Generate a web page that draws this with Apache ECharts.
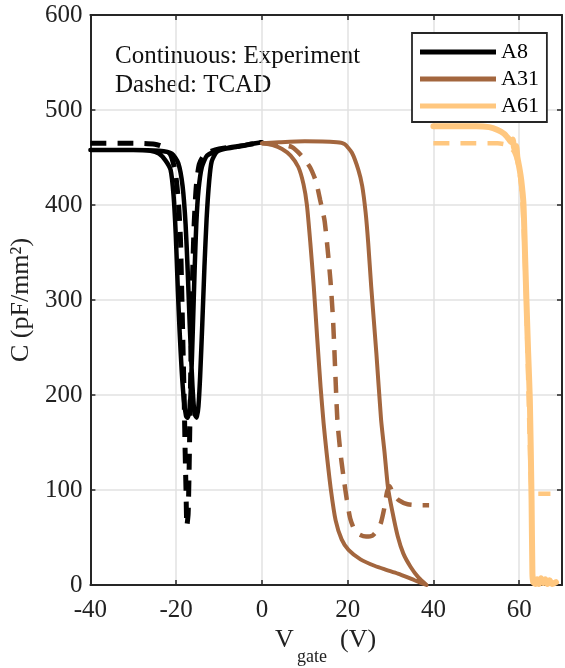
<!DOCTYPE html>
<html>
<head>
<meta charset="utf-8">
<script src="https://cdn.jsdelivr.net/npm/echarts@6/dist/echarts.min.js"></script>
<style>
  html, body { margin: 0; padding: 0; background: #fff; }
  #chart { width: 565px; height: 668px; }
</style>
</head>
<body>
<div id="chart"></div>
<script>
var chart = echarts.init(document.getElementById("chart"));

// x ticks / y ticks
var xTicks = [-40, -20, 0, 20, 40, 60];
var yTicks = [0, 100, 200, 300, 400, 500, 600];
var names = ['A8', 'A31', 'A61'];
var colors = ['#000000', '#a3663e', '#ffc77f'];

// A8 experiment (sweep down and back)
var a8Exp = [
    [-40, 458], [-30, 458], [-26, 457], [-24, 454], [-22.5, 447], [-21.3, 437], [-20.6, 410],
    [-20.1, 370], [-19.6, 310], [-19.2, 268], [-18.7, 225], [-18.2, 195], [-17.7, 178], [-17.4, 176],
    [-16.9, 182], [-16.5, 215], [-16.1, 270], [-15.7, 330], [-15.3, 380], [-14.8, 415], [-14, 440],
    [-12.8, 452], [-10, 458], [-6, 461], [-3, 464], [0, 466],
    [-4, 463], [-8, 460], [-10.5, 456], [-11.7, 446], [-12.3, 425], [-12.9, 385], [-13.4, 335],
    [-13.9, 275], [-14.4, 220], [-14.8, 188], [-15.2, 176], [-15.7, 180], [-16.2, 210], [-16.8, 270],
    [-17.3, 330], [-17.8, 380], [-18.5, 420], [-19.5, 444], [-21, 454], [-24, 457], [-30, 458], [-40, 458]
];
// A8 TCAD
var a8Tcad = [
    [-40, 465], [-30, 465], [-25, 464], [-23, 461], [-21.3, 453], [-20.2, 435], [-19.5, 405],
    [-19, 365], [-18.7, 310], [-18.4, 250], [-18.1, 190], [-17.9, 140], [-17.7, 100], [-17.5, 62],
    [-17.2, 75], [-17, 115], [-16.8, 170], [-16.5, 250], [-16.2, 320], [-15.8, 380], [-15.3, 420],
    [-14.6, 443], [-13.2, 454], [-10, 459], [-5, 462], [0, 466]
];
// A31 experiment
var a31Exp = [
    [0, 465], [2.5, 463], [4.7, 459], [6.7, 452], [8.5, 440], [9.7, 422], [10.5, 400], [11.3, 360],
    [12.1, 314], [12.9, 260], [13.7, 208], [14.4, 170], [15.1, 139], [16.1, 100], [17.2, 68],
    [18.6, 48], [20.2, 37], [23, 27], [26.4, 20], [29, 16], [31.7, 12], [34, 8], [35.6, 5], [38.4, 0],
    [36.5, 8], [34.7, 19], [33, 33], [31.7, 51], [30.4, 78], [29.4, 103], [28.6, 140], [27.8, 174],
    [26.7, 244], [25.5, 314], [24.8, 360], [24.2, 392], [23.4, 420], [22.5, 437], [21, 455],
    [19.3, 464], [17.5, 466], [10, 467], [4, 466], [0, 465]
];
// A31 TCAD
var a31Tcad = [
    [0, 465], [4, 464], [7, 461], [9.2, 452], [11.2, 440], [12.6, 425], [13.6, 405], [14.6, 384],
    [15.3, 355], [16, 320], [16.6, 279], [17.1, 226], [17.6, 174], [18.3, 140], [19, 115],
    [19.8, 90], [20.6, 70], [21.6, 58], [22.8, 53], [24.3, 51], [25.8, 52], [27, 58], [27.8, 66],
    [28.6, 82], [29.2, 98], [29.8, 104], [30.6, 96], [32, 89], [34, 85], [37, 84], [39, 84]
];
// A61 experiment
var a61Exp = [
    [40, 483], [45, 483], [50, 483], [53, 482], [55, 479], [56.5, 475], [57.5, 470], [58.2, 466],
    [58.5, 469], [58.9, 459], [59.3, 462], [59.6, 450], [60.1, 438], [60.5, 426], [61, 402],
    [61.4, 345], [61.7, 300], [62.1, 245], [62.5, 195], [62.9, 90], [63.1, 12], [63.3, 3],
    [63.8, 1], [64.2, 6], [64.6, 1], [65.1, 7], [65.6, 2], [66.1, 6], [66.6, 1], [67.1, 5],
    [67.7, 1], [68.6, 3]
];
// A61 TCAD
var a61Tcad = [
    [40, 465], [48, 465], [55, 465], [57.4, 463], [58.8, 456], [59.8, 442], [60.6, 415],
    [61.2, 360], [61.7, 290], [62.2, 200], [62.6, 130], [62.9, 100], [63.5, 96], [67.3, 96]
];

var font = 'Liberation Serif';

function expSeries(name, data, color, w) {
    return {
        name: name, type: 'line', data: data, showSymbol: false, symbol: 'none',
        smooth: 0.2,
        lineStyle: { color: color, width: w, cap: 'round', join: 'round' },
        itemStyle: { color: color },
        animation: false, silent: true
    };
}
function tcadSeries(name, data, color, w) {
    return {
        name: name, type: 'line', data: data, showSymbol: false, symbol: 'none',
        smooth: 0.2,
        lineStyle: { color: color, width: w, type: [16, 11] },
        itemStyle: { color: color },
        animation: false, silent: true
    };
}

var axisColor = '#262626';
var tickStyle = { inside: true, length: 5, lineStyle: { color: axisColor, width: 1.5 } };

option = {
    animation: false,
    grid: { left: 89, right: 1, top: 15, bottom: 83 },
    legend: {
        data: names.map(function (n) { return { name: n, icon: 'rect' }; }),
        orient: 'vertical',
        left: 412, top: 33,
        padding: [8, 8, 5, 8],
        itemGap: 5,
        itemWidth: 76,
        itemHeight: 5,
        borderColor: axisColor,
        borderWidth: 1.8,
        backgroundColor: '#fff',
        textStyle: { fontFamily: font, fontSize: 22, color: '#000', lineHeight: 22 }
    },
    xAxis: [{
        type: 'value', min: -40, max: 70, interval: 20,
        axisLine: { onZero: false, lineStyle: { color: axisColor, width: 2 } },
        axisTick: tickStyle,
        axisLabel: {
            margin: 13, fontFamily: font, fontSize: 25, color: '#222',
            formatter: function (v) { return xTicks.indexOf(v) >= 0 ? String(v) : ''; }
        },
        splitLine: { show: true, lineStyle: { color: '#e2e2e2', width: 1.5 } }
    }, {
        type: 'value', min: -40, max: 70, interval: 20, position: 'top',
        axisLine: { show: true, onZero: false, lineStyle: { color: axisColor, width: 2 } },
        axisTick: tickStyle,
        axisLabel: { show: false },
        splitLine: { show: false }
    }],
    yAxis: [{
        type: 'value', min: 0, max: 600, interval: 100,
        name: 'C (pF/mm²)', nameLocation: 'middle', nameGap: 55,
        nameTextStyle: { fontFamily: font, fontSize: 26, color: '#222' },
        axisLine: { show: true, onZero: false, lineStyle: { color: axisColor, width: 2 } },
        axisTick: tickStyle,
        axisLabel: {
            margin: 8, fontFamily: font, fontSize: 25, color: '#222',
            formatter: function (v) { return yTicks.indexOf(v) >= 0 ? String(v) : ''; }
        },
        splitLine: { show: true, lineStyle: { color: '#e2e2e2', width: 1.5 } }
    }, {
        type: 'value', min: 0, max: 600, interval: 100, position: 'right',
        axisLine: { show: true, onZero: false, lineStyle: { color: axisColor, width: 2 } },
        axisTick: tickStyle,
        axisLabel: { show: false },
        splitLine: { show: false }
    }],
    graphic: [
        { type: 'text', left: 115, top: 44, style: { text: 'Continuous: Experiment', font: '25px "Liberation Serif"', fill: '#111' } },
        { type: 'text', left: 115, top: 73, style: { text: 'Dashed: TCAD', font: '25px "Liberation Serif"', fill: '#111' } },
        { type: 'text', left: 275, top: 627, style: { text: 'V', font: '26px "Liberation Serif"', fill: '#222' } },
        { type: 'text', left: 297, top: 648, style: { text: 'gate', font: '18px "Liberation Serif"', fill: '#222' } },
        { type: 'text', left: 340, top: 627, style: { text: '(V)', font: '26px "Liberation Serif"', fill: '#222' } }
    ],
    series: [
        expSeries('A8', a8Exp, colors[0], 4.5),
        tcadSeries('A8 TCAD', a8Tcad, colors[0], 5),
        expSeries('A31', a31Exp, colors[1], 4),
        tcadSeries('A31 TCAD', a31Tcad, colors[1], 4.5),
        expSeries('A61', a61Exp, colors[2], 6),
        tcadSeries('A61 TCAD', a61Tcad, colors[2], 4.5)
    ]
};
chart.setOption(option);
</script>
</body>
</html>
